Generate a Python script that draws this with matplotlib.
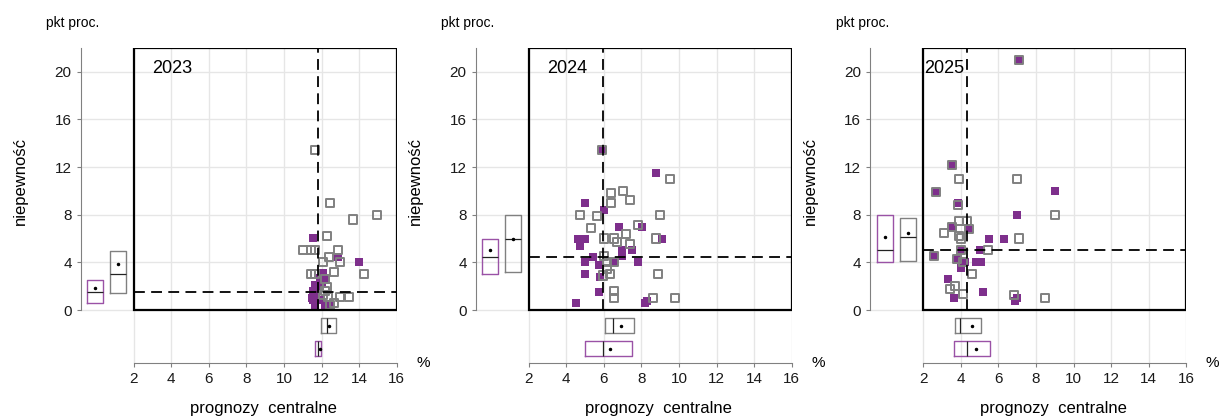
import matplotlib
matplotlib.use("Agg")
import matplotlib.pyplot as plt
from matplotlib.patches import Rectangle

plt.rcParams['font.family'] = ['Liberation Sans', 'DejaVu Sans']

# Data
years = ["2023", "2024", "2025"]

# purple = current survey, gray = previous survey (central forecast, uncertainty)
purple_x = [
    [11.56, 12.86, 13.97, 12.09, 12.2, 11.92, 11.65, 11.56, 11.83, 11.47,
     11.56, 11.92, 11.65, 12.18, 12.46, 11.7, 12.0],
    [5.88, 8.79, 5.01, 6.02, 6.81, 8.01, 9.07, 4.64, 5.01, 4.71, 6.98, 7.51,
     6.98, 5.41, 5.01, 5.76, 6.52, 7.8, 5.01, 5.78, 5.73, 4.53, 8.19, 8.32],
    [7.1, 3.51, 2.69, 9.0, 3.87, 6.99, 3.55, 4.44, 5.5, 6.32, 5.0, 4.03,
     2.57, 3.81, 4.22, 4.83, 5.05, 4.03, 3.32, 5.2, 3.62, 6.99, 6.9],
]
purple_y = [
    [6.02, 4.48, 4.0, 3.08, 2.6, 2.66, 2.1, 1.6, 1.6, 1.0,
     0.84, 0.84, 0.42, 0.42, 0.4, 1.3, 2.2],
    [13.4, 11.51, 9.02, 8.4, 7.0, 7.0, 6.0, 6.0, 5.94, 5.4, 5.02, 5.02,
     4.51, 4.43, 4.03, 3.81, 4.03, 4.03, 3.03, 2.8, 1.51, 0.62, 0.62, 0.75],
    [20.98, 12.18, 9.89, 10.0, 8.99, 8.01, 7.0, 6.83, 6.0, 6.0, 5.01, 5.07,
     4.51, 4.3, 4.0, 4.0, 4.0, 3.5, 2.63, 1.51, 1.03, 1.03, 0.78],
]
gray_x = [
    [11.66, 12.46, 13.67, 14.95, 12.27, 10.99, 11.45, 11.66, 12.86, 12.38,
     12.06, 12.96, 14.24, 12.66, 11.42, 11.63, 12.18, 12.27, 12.2, 12.09,
     12.36, 12.98, 13.46, 12.68, 12.45],
    [5.88, 9.5, 7.0, 6.4, 6.4, 7.39, 4.71, 5.62, 9.0, 5.32, 7.8, 7.19, 6.0,
     6.52, 6.72, 7.39, 8.77, 6.0, 6.15, 6.52, 6.18, 6.34, 8.9, 6.52, 6.52,
     8.6, 9.77, 5.95],
    [7.1, 3.51, 2.69, 3.87, 3.55, 4.44, 4.03, 2.57, 3.81, 3.92, 6.99, 9.0,
     3.92, 4.33, 3.12, 3.92, 4.03, 7.1, 5.46, 4.1, 4.61, 3.69, 3.4, 4.12,
     6.81, 8.48],
]
gray_y = [
    [13.4, 9.0, 7.6, 8.0, 6.2, 5.04, 5.04, 5.04, 5.04, 4.43,
     4.03, 4.03, 3.03, 3.22, 3.03, 3.06, 2.6, 1.96, 1.6, 1.26,
     1.12, 1.07, 1.07, 0.56, 0.4],
    [13.4, 10.98, 10.0, 9.8, 9.02, 9.2, 8.0, 7.9, 8.0, 6.9, 7.12, 6.41, 6.0,
     6.0, 5.71, 5.52, 6.0, 4.51, 4.06, 4.03, 3.42, 3.03, 3.03, 1.62, 1.03,
     1.03, 1.03, 2.9],
    [20.98, 12.18, 9.89, 8.85, 7.0, 6.83, 5.07, 4.51, 4.3, 10.98, 10.98, 8.01,
     7.5, 7.5, 6.5, 6.2, 6.0, 6.0, 5.01, 4.0, 3.03, 2.02, 1.8, 1.34,
     1.23, 1.03],
]

# box stats: q1, median, q3, mean
unc_purple = [(0.59, 1.54, 2.5, 1.87), (3.0, 4.45, 5.99, 5.07), (4.0, 5.0, 7.96, 6.13)]
unc_gray = [(1.43, 3.05, 4.98, 3.84), (3.19, 5.99, 7.96, 5.94), (4.09, 6.1, 7.7, 6.47)]
cen_purple = [(11.67, 11.8, 11.98, 11.9), (5.01, 5.96, 7.51, 6.31), (3.62, 4.31, 5.54, 4.79)]
cen_gray = [(11.98, 12.27, 12.78, 12.39), (6.04, 6.5, 7.62, 6.93), (3.69, 3.97, 5.08, 4.6)]

year_pos = [3.0, 3.0, 2.05]

PURPLE = "#7e2f8c"
PURPLE_BOX = "#9a52a6"
GRAY = "#808080"


def stats(s):
    q1, med, q3, mean = s
    return [dict(q1=q1, med=med, q3=q3, mean=mean, whislo=q1, whishi=q3, fliers=[])]


def draw_boxes(ax, s, pos, width, color, orient):
    ax.bxp(stats(s), positions=[pos], widths=width, orientation=orient,
           showmeans=True, showcaps=False, showfliers=False,
           boxprops=dict(color=color, linewidth=1.0),
           whiskerprops=dict(linewidth=0),
           medianprops=dict(color="#222222", linewidth=0.9),
           meanprops=dict(marker='.', markerfacecolor='k', markeredgecolor='k',
                          markersize=3), manage_ticks=False)


fig = plt.figure(figsize=(12.21, 4.18), dpi=100)
lefts = [80.7, 475.7, 870.3]

for i in range(3):
    ax = fig.add_axes([lefts[i] / 1221, 55 / 418, 316 / 1221, 315 / 418])
    ax.set_xlim(-0.82, 16)
    ax.set_ylim(-4.45, 22)

    # spines only on the outer axes
    for s in ['top', 'right']:
        ax.spines[s].set_visible(False)
    ax.spines['left'].set_bounds(0, 22)
    ax.spines['bottom'].set_bounds(2, 16)
    ax.spines['left'].set_color(GRAY)
    ax.spines['bottom'].set_color(GRAY)

    ax.set_xticks(range(2, 17, 2))
    ax.set_yticks(range(0, 21, 4))
    ax.tick_params(axis='both', labelsize=11, length=3, color=GRAY,
                   labelcolor="#1a1a1a")
    ax.grid(color="#e6e6e6", linewidth=1.0, zorder=0)
    ax.set_axisbelow(True)

    # scatter points
    ax.scatter(purple_x[i], purple_y[i], marker='s', s=36, color=PURPLE,
               linewidths=0, zorder=3)
    ax.scatter(gray_x[i], gray_y[i], marker='s', s=34, facecolors='none',
               edgecolors=GRAY, linewidths=1.4, zorder=4)

    # medians of current survey
    ax.plot([2, 16], [unc_purple[i][1]] * 2, color='k', lw=1.3,
            dashes=(6, 3.5), zorder=5)
    ax.plot([cen_purple[i][1]] * 2, [0, 22], color='k', lw=1.3,
            dashes=(6, 3.5), zorder=5)

    # frame
    ax.add_patch(Rectangle((2, 0), 14, 22, fill=False, edgecolor='k',
                           linewidth=1.6, zorder=6))

    # box plots
    draw_boxes(ax, unc_purple[i], -0.06, 0.85, PURPLE_BOX, 'vertical')
    draw_boxes(ax, unc_gray[i], 1.17, 0.85, GRAY, 'vertical')
    draw_boxes(ax, cen_gray[i], -1.33, 1.26, GRAY, 'horizontal')
    draw_boxes(ax, cen_purple[i], -3.26, 1.26, PURPLE_BOX, 'horizontal')

    ax.text(year_pos[i], 20.3, years[i], fontsize=13, va='center', zorder=7)
    ax.text(-0.11, 1.079, "pkt proc.", fontsize=10, transform=ax.transAxes,
            va='center')
    ax.text(-0.19, 0.578, "niepewność", fontsize=12, rotation=90,
            transform=ax.transAxes, va='center', ha='center')
    ax.text(0.578, -0.143, "prognozy  centralne", fontsize=12,
            transform=ax.transAxes, va='center', ha='center')
    ax.text(1.083, 0.0, "%", fontsize=11, transform=ax.transAxes,
            va='center', ha='center')

plt.savefig("out.png", dpi=100)
